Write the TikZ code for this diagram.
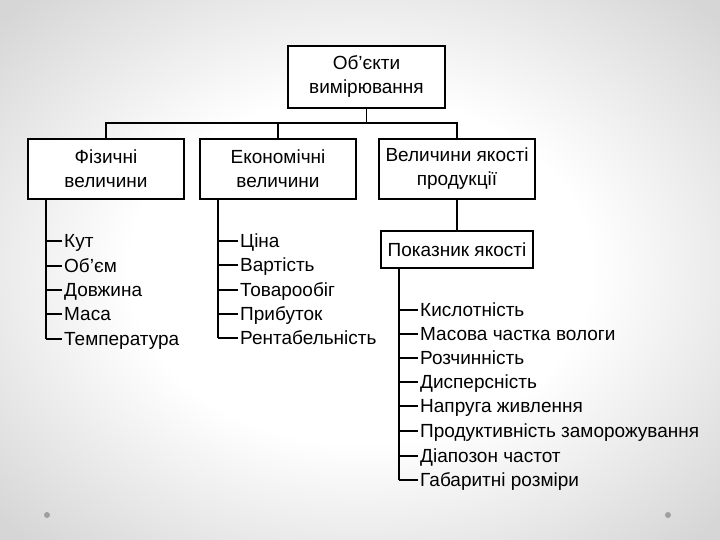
\documentclass[tikz,border=0pt]{standalone}
\usepackage{fontspec}
\setmainfont{Liberation Sans}
\pgfdeclareradialshading{bgshade}{\pgfpoint{0bp}{0bp}}{color(0bp)=(white); color(16bp)=(white); color(34bp)=(black!16); color(50bp)=(black!18)}
\begin{document}
\begin{tikzpicture}[x=1pt,y=-1pt,
  box/.style={draw,line width=1.6pt,fill=white,align=center,inner sep=0pt,
    font=\fontsize{19}{24}\selectfont},
  item/.style={anchor=base west,inner sep=0pt,font=\fontsize{19}{22}\selectfont},
  conn/.style={line width=1.1pt},
  dot/.style={fill=gray!75}]
\shade[shading=bgshade] (0,0) rectangle (720,540);
\useasboundingbox (0,0) rectangle (720,540);
% boxes
\node[box,minimum width=157pt,minimum height=62pt] (top) at (366.5,77) {Об’єкти\\вимірювання};
\node[box,minimum width=156pt,minimum height=60pt] (fiz) at (106,169) {Фізичні\\величини};
\node[box,minimum width=156pt,minimum height=60pt] (eko) at (278,169) {Економічні\\величини};
\node[box,minimum width=156pt,minimum height=60pt] (vel) at (457,169) {Величини якості\\продукції};
\node[box,minimum width=152pt,minimum height=37pt] (pok) at (457,249.5) {Показник якості};
% bus
\coordinate (bus) at (366.5,123);
\draw[conn] (top.south) -- (top.south |- bus);
\draw[conn] (fiz.north) -- (fiz.north |- bus) -- (vel.north |- bus) -- (vel.north);
\draw[conn] (eko.north) -- (eko.north |- bus);
\draw[conn] (vel.south) -- (pok.north);
% physical list
\coordinate (fl) at (46,199);
\foreach \t/\y [count=\i] in {Кут/241,Об’єм/266,Довжина/290,Маса/314,Температура/339}{
  \node[item] (f\i) at (64,\y+6.8) {\t};
  \draw[conn] (fl |- f\i.base west) ++(0,-6.8) -- ([xshift=-2pt,yshift=6.8pt]f\i.base west);
}
\draw[conn] (fl) -- ([yshift=6.8pt]fl |- f5.base west);
% economic list
\coordinate (el) at (218,199);
\foreach \t/\y [count=\i] in {Ціна/241,Вартість/265,Товарообіг/290,Прибуток/314,Рентабельність/338}{
  \node[item] (e\i) at (240,\y+6.8) {\t};
  \draw[conn] (el |- e\i.base west) ++(0,-6.8) -- ([xshift=-2pt,yshift=6.8pt]e\i.base west);
}
\draw[conn] (el) -- ([yshift=6.8pt]el |- e5.base west);
% quality list
\coordinate (pl) at (399,268);
\foreach \t/\y [count=\i] in {Кислотність/310,Масова частка вологи/334,Розчинність/358,Дисперсність/382,Напруга живлення/406,Продуктивність заморожування/431,Діапозон частот/456,Габаритні розміри/480}{
  \node[item] (p\i) at (420,\y+6.8) {\t};
  \draw[conn] (pl |- p\i.base west) ++(0,-6.8) -- ([xshift=-2pt,yshift=6.8pt]p\i.base west);
}
\draw[conn] (pl) -- ([yshift=6.8pt]pl |- p8.base west);
% decorative dots
\fill[dot] (47,515) circle (3);
\fill[dot] (668,515) circle (3);
\end{tikzpicture}
\end{document}
